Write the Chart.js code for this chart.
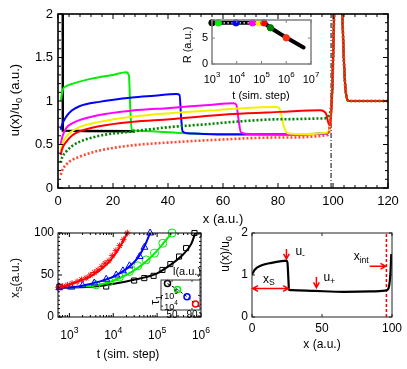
<!DOCTYPE html>
<html>
<head>
<meta charset="utf-8">
<script src="https://cdn.jsdelivr.net/npm/chart.js@4.4.0/dist/chart.umd.min.js"></script>
<style>
body { margin: 0; background: #fff; }
#wrap { position: relative; width: 407px; height: 369px; }
#wrap canvas { position: absolute; left: 0; top: 0; }
</style>
</head>
<body>
<div id="wrap">
  <canvas id="cMain" width="407" height="369"></canvas>
  <canvas id="cInset" width="407" height="369"></canvas>
  <canvas id="cTime" width="407" height="369"></canvas>
  <canvas id="cTau" width="407" height="369"></canvas>
  <canvas id="cProf" width="407" height="369"></canvas>
</div>
<script>
// ---- main panel: u(x)/u0 profiles, [x, u] pairs ----
const spikeTail = [[99.8,1.2],[100.4,2.0],[100.9,2.7],[102.8,2.7],[103.4,2.0],[104.2,1.3],[104.9,1.05],[105.8,1.0],[120,1.0]];
const profBlack = [[1.7,2.7],[1.75,0.66],[10,0.655],[28,0.652]];
const profGreen = [[1,1.0],[1.75,1.13],[3,1.17],[5.4,1.2],[12.7,1.26],[20,1.3],[24.8,1.33],[25.8,1.29],[26.3,0.9],[26.8,0.67],[30,0.655],[46.7,0.63],[60,0.62],[80,0.62],[98,0.63]];
const profBlue = [[1,0.67],[1.5,0.73],[3,0.82],[5,0.89],[7.8,0.94],[15,0.99],[27,1.04],[35,1.06],[43.1,1.08],[44.2,1.07],[44.8,0.8],[45.3,0.65],[47,0.63],[60,0.615],[80,0.615],[98,0.63]];
const profMagenta = [[1,0.5],[1.5,0.58],[3,0.69],[5,0.74],[7.8,0.78],[15,0.84],[27,0.89],[40.7,0.92],[55,0.955],[63.8,0.975],[64.8,0.96],[65.6,0.8],[66.5,0.64],[70,0.62],[85,0.615],[98,0.63]];
const profYellow = [[1,0.42],[1.5,0.5],[3,0.59],[5,0.65],[7.8,0.7],[15,0.76],[27,0.82],[40.7,0.86],[55,0.89],[63.8,0.91],[79.5,0.93],[80.6,0.91],[82.2,0.7],[83.6,0.63],[90,0.62],[98.2,0.64]];
const profRed = [[1,0.38],[1.5,0.45],[3,0.53],[5,0.6],[7.8,0.65],[15,0.71],[27,0.76],[40.7,0.79],[55,0.83],[63.8,0.85],[80.8,0.875],[95.4,0.895],[97.4,0.86],[98.4,0.74],[99,0.72]];
const profGreenDot = [[1,0.29],[1.5,0.35],[3,0.42],[5,0.48],[7.8,0.53],[15,0.6],[27,0.65],[40.7,0.7],[55,0.735],[63.8,0.76],[80.8,0.79],[96.6,0.8],[98.6,0.84]];
const profRedDot = [[1,0.15],[1.5,0.2],[3,0.27],[5,0.32],[7.8,0.36],[15,0.43],[27,0.49],[44,0.53],[55,0.55],[80,0.58],[98.2,0.61]];
const xInterface = 99.3;
const mainXTicks = [0, 20, 40, 60, 80, 100, 120];
const mainYTicks = [0, 0.5, 1, 1.5, 2];
const mainYLabels = ['0', '0.5', '1', '1.5', '2'];

// ---- inset: R vs t ----
const rLine = [[1e3,7.95],[1.3e5,7.95],[2.3e5,7.0],[1e6,5.1],[5e6,3.2]];
const rMarkT = [1e3, 1.8e3, 9.3e3, 4.3e4, 8e4, 1.26e5, 2.3e5, 1e6];
const rMarkR = [7.95, 7.95, 7.95, 7.95, 7.95, 7.95, 7.0, 5.06];
const rTicksT = [1e3, 1e4, 1e5, 1e6, 1e7];
const rExp = ['3', '4', '5', '6', '7'];
const rTicksR = [0, 5];

// ---- lower left: x_S vs t, [t, xs] pairs ----
const fitRed = [[550,35],[650,35.6],[1290,40.7],[2630,46.6],[5250,56.5],[8900,68.3],[15100,86],[20900,100]];
const fitBlue = [[550,34.4],[1290,35.6],[2630,38.7],[5250,42.7],[10700,48.6],[21400,58.5],[36300,70.3],[51300,84.2],[69200,100]];
const fitGreen = [[550,34.4],[2600,36.5],[7000,40.5],[15000,47],[30000,55.5],[56000,66],[100000,79],[150000,90],[215000,100]];
const fitBlack = [[550,34.5],[4800,37],[28000,44],[100000,52],[200000,62],[400000,75],[600000,87],[740000,100]];
const simRed = [[560,35.5],[700,36.5],[900,38],[1150,40],[1500,42],[1900,44.5],[2400,46.5],[3000,50],[3700,53],[4500,56],[5500,60],[6500,64],[8000,67],[9500,73],[11500,79],[14000,85],[17000,92],[20900,100]];
const simBlue = [[590,34.8],[1100,35.6],[2000,37.5],[3700,40.5],[6900,45],[11700,50],[16600,55],[23400,61],[39800,72],[51300,83],[69200,100]];
const simGreen = [[4070,38.3],[8130,42.2],[13800,47.5],[23400,54.1],[36300,60.9],[56200,68],[87100,75.9],[135000,87.8],[219000,100]];
const simBlack = [[590,36],[6900,36.3],[30000,43.4],[51000,46.3],[83000,49],[132000,56],[200000,63],[316000,72],[457000,82],[710000,100]];
const tTicks = [1e3, 1e4, 1e5, 1e6];
const tExp = ['3', '4', '5', '6'];
const xsTicks = [0, 50, 100];

// ---- small inset: tau1 vs l ----
const lenL = [41, 61, 80, 97];
const tau1 = [1.3e6, 3.7e5, 7.6e4, 1.6e4];
const lTicks = [50, 90];
const tauTicks = [1e4, 1e5];
const tauExp = ['4', '5'];

// ---- lower right: single profile ----
const profile = [[0,1.01],[2.1,1.13],[6.9,1.23],[14,1.29],[21,1.33],[24.6,1.34],[25.3,1.3],[26,0.9],[26.4,0.65],[28.4,0.64],[45,0.62],[66,0.6],[85,0.61],[95,0.63],[96.9,0.65],[98,0.75],[98.8,1.0],[99.5,1.5]];
const xIntB = 96;
const profXTicks = [0, 50, 100];
const profYTicks = [0, 1, 2];

const FONT = '"Liberation Sans", Arial, sans-serif';
const pts = a => a.map(p => ({ x: p[0], y: p[1] }));

function lineDs(data, color, width, dash, smooth) {
  return {
    data: pts(data), showLine: true, borderColor: color, borderWidth: width,
    borderDash: dash || [], pointRadius: 0, fill: false, tension: 0,
    cubicInterpolationMode: smooth ? 'monotone' : 'default'
  };
}
function markDs(data, color, style, r) {
  return {
    data: pts(data), showLine: false, pointStyle: style, pointRadius: r,
    borderColor: color, pointBorderWidth: 1, backgroundColor: 'rgba(0,0,0,0)', clip: 8
  };
}

// text with sub (1) and superscript (2) parts
function rich(ctx, parts, x, y, size, align) {
  let w = 0;
  const ws = parts.map(p => {
    ctx.font = (p[1] ? size * 0.72 : size) + 'px ' + FONT;
    const m = ctx.measureText(p[0]).width;
    w += m;
    return m;
  });
  let cx = align === 'center' ? x - w / 2 : (align === 'right' ? x - w : x);
  ctx.textAlign = 'left';
  ctx.textBaseline = 'middle';
  ctx.fillStyle = '#000';
  parts.forEach((p, i) => {
    ctx.font = (p[1] ? size * 0.72 : size) + 'px ' + FONT;
    const dy = p[1] === 1 ? size * 0.32 : (p[1] === 2 ? -size * 0.45 : 0);
    ctx.fillText(p[0], cx, y + dy);
    cx += ws[i];
  });
}
function vrich(ctx, parts, x, y, size) {
  ctx.save();
  ctx.translate(x, y);
  ctx.rotate(-Math.PI / 2);
  rich(ctx, parts, 0, 0, size, 'center');
  ctx.restore();
}
// box round the plot area with inward ticks on all four sides
function frame(chart, s) {
  const { ctx, chartArea: a, scales: { x, y } } = chart;
  ctx.save();
  ctx.strokeStyle = s.color || '#000';
  ctx.lineWidth = s.tickWidth || 1;
  ctx.beginPath();
  const xt = (vals, len) => vals.forEach(v => {
    const p = x.getPixelForValue(v);
    ctx.moveTo(p, a.bottom); ctx.lineTo(p, a.bottom - len);
    ctx.moveTo(p, a.top); ctx.lineTo(p, a.top + len);
  });
  const yt = (vals, len) => vals.forEach(v => {
    const p = y.getPixelForValue(v);
    ctx.moveTo(a.left, p); ctx.lineTo(a.left + len, p);
    ctx.moveTo(a.right, p); ctx.lineTo(a.right - len, p);
  });
  xt(s.xMaj || [], s.maj); xt(s.xMin || [], s.min);
  yt(s.yMaj || [], s.maj); yt(s.yMin || [], s.min);
  ctx.stroke();
  ctx.lineWidth = s.width;
  ctx.strokeRect(a.left, a.top, a.right - a.left, a.bottom - a.top);
  ctx.restore();
}
function logMinor(lo, hi) {
  const out = [];
  for (let d = 1; d <= 1e7; d *= 10) for (let k = 2; k <= 9; k++) if (k * d > lo && k * d < hi) out.push(k * d);
  return out;
}
function arrow(ctx, x1, y1, x2, y2, both) {
  const head = (ax, ay, bx, by) => {
    const ang = Math.atan2(by - ay, bx - ax), h = 6;
    ctx.moveTo(bx - h * Math.cos(ang - 0.5), by - h * Math.sin(ang - 0.5));
    ctx.lineTo(bx, by);
    ctx.lineTo(bx - h * Math.cos(ang + 0.5), by - h * Math.sin(ang + 0.5));
  };
  ctx.beginPath();
  ctx.moveTo(x1, y1); ctx.lineTo(x2, y2);
  head(x1, y1, x2, y2);
  if (both) head(x2, y2, x1, y1);
  ctx.stroke();
}
const whiteBg = {
  id: 'whiteBg',
  beforeDraw(chart) {
    const a = chart.chartArea;
    chart.ctx.fillStyle = '#fff';
    chart.ctx.fillRect(a.left, a.top, a.right - a.left, a.bottom - a.top);
  }
};
function base(pad, xs, ys) {
  return {
    responsive: false, animation: false, events: [],
    layout: { padding: pad },
    plugins: { legend: { display: false }, tooltip: { enabled: false } },
    scales: { x: Object.assign({ display: false }, xs), y: Object.assign({ display: false }, ys) }
  };
}

// ---------------- main panel ----------------
new Chart(document.getElementById('cMain'), {
  type: 'scatter',
  data: {
    datasets: [
      lineDs(profRedDot.concat(spikeTail), 'rgba(255,55,25,0.9)', 2.6, [2, 2], true),
      lineDs(profGreenDot.concat(spikeTail), '#008000', 2.6, [2, 2], true),
      lineDs(profRed.concat(spikeTail), '#ff0000', 2, null, true),
      lineDs(profYellow.concat(spikeTail), '#f2f200', 2, null, true),
      lineDs(profMagenta.concat(spikeTail), '#ff00ff', 2, null, true),
      lineDs(profBlue.concat(spikeTail), '#0000ff', 2, null, true),
      lineDs(profGreen.concat(spikeTail), '#00ee00', 2, null, true),
      lineDs(profBlack, '#000', 2.4, null, false),
      lineDs([[xInterface, 0], [xInterface, 2]], '#000', 1, [5, 2, 1, 2], false)
    ]
  },
  options: base({ left: 58, top: 14, right: 19, bottom: 181 }, { type: 'linear', min: 0, max: 120 }, { type: 'linear', min: 0, max: 2 }),
  plugins: [{
    id: 'mainDeco',
    afterDraw(chart) {
      const { ctx, chartArea: a, scales: { x, y } } = chart;
      const xMin = [], yMin = [];
      for (let v = 4; v < 120; v += 4) if (v % 20) xMin.push(v);
      for (let v = 1; v < 20; v++) if (v % 5) yMin.push(v / 10);
      frame(chart, { width: 1.6, maj: 5, min: 3, xMaj: mainXTicks, xMin, yMaj: mainYTicks, yMin });
      mainXTicks.forEach(v => rich(ctx, [[String(v), 0]], x.getPixelForValue(v), a.bottom + 13, 13, 'center'));
      mainYTicks.forEach((v, i) => rich(ctx, [[mainYLabels[i], 0]], a.left - 5, y.getPixelForValue(v), 13, 'right'));
      rich(ctx, [['x (a.u.)', 0]], 223, 219, 13, 'center');
      vrich(ctx, [['u(x)/u', 0], ['0', 1], [' (a.u.)', 0]], 15, 100, 13);
    }
  }]
});

// ---------------- inset R(t) ----------------
new Chart(document.getElementById('cInset'), {
  type: 'scatter',
  data: {
    datasets: [
      {
        data: rMarkT.map((t, i) => ({ x: t, y: rMarkR[i] })), showLine: false, pointStyle: 'circle', pointRadius: 3.2,
        backgroundColor: ['#000', '#00ee00', '#0000ff', '#ff00ff', '#f2f200', '#ff0000', '#007f00', '#ff3010'],
        borderColor: ['#000', '#00ee00', '#0000ff', '#ff00ff', '#f2f200', '#ff0000', '#007f00', '#ff3010'], clip: 6
      },
      lineDs([[2e3, 7.95], [9e4, 7.95]], '#fff', 1.2, [1.5, 2.5], false),
      Object.assign(lineDs(rLine, '#000', 4, null, false), { borderCapStyle: 'round' })
    ]
  },
  options: base({ left: 212, top: 20, right: 96, bottom: 305 }, { type: 'logarithmic', min: 1e3, max: 1e7 }, { type: 'linear', min: 0, max: 8.5 }),
  plugins: [whiteBg, {
    id: 'insetDeco',
    afterDraw(chart) {
      const { ctx, chartArea: a, scales: { x, y } } = chart;
      frame(chart, { width: 1.5, color: '#808080', maj: 3, min: 0, xMaj: rTicksT, yMaj: rTicksR });
      rTicksT.forEach((v, i) => rich(ctx, [['10', 0], [rExp[i], 2]], x.getPixelForValue(v), a.bottom + 16, 11, 'center'));
      rTicksR.forEach(v => rich(ctx, [[String(v), 0]], a.left - 4, y.getPixelForValue(v), 11, 'right'));
      rich(ctx, [['t (sim. step)', 0]], 261, 96, 11, 'center');
      vrich(ctx, [['R (a.u.)', 0]], 188, 45, 11);
    }
  }]
});

// ---------------- lower left: x_S(t) ----------------
new Chart(document.getElementById('cTime'), {
  type: 'scatter',
  data: {
    datasets: [
      markDs(simRed, '#ff0000', 'star', 3.2),
      lineDs(fitRed, '#ff0000', 2, null, true),
      markDs(simBlue, '#0000ff', 'triangle', 4),
      lineDs(fitBlue, '#0000ff', 2, null, true),
      markDs(simGreen, '#00ee00', 'circle', 4),
      lineDs(fitGreen, '#00ee00', 2, null, true),
      markDs(simBlack, '#000', 'rect', 3.6),
      lineDs(fitBlack, '#000', 2, null, true)
    ]
  },
  options: base({ left: 58, top: 233, right: 206, bottom: 52 }, { type: 'logarithmic', min: 550, max: 1e6 }, { type: 'linear', min: 0, max: 100 }),
  plugins: [{
    id: 'timeDeco',
    afterDraw(chart) {
      const { ctx, chartArea: a, scales: { x, y } } = chart;
      const yMin = [];
      for (let v = 5; v < 100; v += 5) if (v % 50) yMin.push(v);
      frame(chart, { width: 1, maj: 4, min: 2, xMaj: tTicks, xMin: logMinor(550, 1e6), yMaj: xsTicks, yMin });
      tTicks.forEach((v, i) => rich(ctx, [['10', 0], [tExp[i], 2]], x.getPixelForValue(v), a.bottom + 19, 12, 'center'));
      xsTicks.forEach(v => rich(ctx, [[String(v), 0]], a.left - 4, y.getPixelForValue(v), 12, 'right'));
      rich(ctx, [['t (sim. step)', 0]], 128, 355, 12, 'center');
      vrich(ctx, [['x', 0], ['S', 1], ['(a.u.)', 0]], 16, 278, 12);
    }
  }]
});

// ---------------- small inset: tau1(l) ----------------
new Chart(document.getElementById('cTau'), {
  type: 'scatter',
  data: {
    datasets: [
      {
        data: lenL.map((l, i) => ({ x: l, y: tau1[i] })), showLine: false, pointStyle: 'circle', pointRadius: 3,
        borderColor: ['#000', '#00ee00', '#0000ff', '#ff0000'], pointBorderWidth: 1.5,
        backgroundColor: 'rgba(0,0,0,0)', clip: 5
      },
      lineDs(lenL.map((l, i) => [l, tau1[i]]), '#000', 1, [3, 2], false)
    ]
  },
  options: base({ left: 161, top: 280, right: 207, bottom: 59 }, { type: 'linear', min: 28, max: 106 }, { type: 'logarithmic', min: 4365, max: 2.82e6 }),
  plugins: [whiteBg, {
    id: 'tauDeco',
    afterDraw(chart) {
      const { ctx, chartArea: a, scales: { x, y } } = chart;
      frame(chart, { width: 1, color: '#333', maj: 2, min: 0, xMaj: lTicks, yMaj: tauTicks });
      tauTicks.forEach((v, i) => rich(ctx, [['10', 0], [tauExp[i], 2]], a.left + 10, y.getPixelForValue(v) + 1, 9, 'center'));
      lTicks.forEach(v => rich(ctx, [[String(v), 0]], x.getPixelForValue(v), a.bottom + 5, 10, 'center'));
      rich(ctx, [['l(a.u.)', 0]], 187, 272, 11, 'center');
      vrich(ctx, [['\u03c4', 0], ['1', 1]], 156, 300, 12);
    }
  }]
});

// ---------------- lower right: one profile ----------------
new Chart(document.getElementById('cProf'), {
  type: 'scatter',
  data: {
    datasets: [
      lineDs(profile, '#000', 2.2, null, true),
      lineDs([[xIntB, 0], [xIntB, 2]], '#ff0000', 1.5, [3, 2], false)
    ]
  },
  options: base({ left: 252, top: 233, right: 15, bottom: 52 }, { type: 'linear', min: 0, max: 100 }, { type: 'linear', min: 0, max: 2 }),
  plugins: [{
    id: 'profDeco',
    afterDraw(chart) {
      const { ctx, chartArea: a, scales: { x, y } } = chart;
      frame(chart, { width: 1, color: '#222', maj: 3, min: 0, xMaj: profXTicks, yMaj: profYTicks });
      profXTicks.forEach(v => rich(ctx, [[String(v), 0]], x.getPixelForValue(v), a.bottom + 12, 12, 'center'));
      profYTicks.forEach(v => rich(ctx, [[String(v), 0]], a.left - 4, y.getPixelForValue(v), 12, 'right'));
      rich(ctx, [['x (a.u.)', 0]], 322, 345, 12, 'center');
      vrich(ctx, [['u(x)/u', 0], ['0', 1]], 226, 254, 12);
      // red arrows and their labels
      ctx.save();
      ctx.strokeStyle = '#ff0000';
      ctx.lineWidth = 1.5;
      const X = v => x.getPixelForValue(v), Y = v => y.getPixelForValue(v);
      arrow(ctx, X(24.6), Y(1.62), X(24.6), Y(1.38));
      arrow(ctx, X(46), Y(0.95), X(46), Y(0.7));
      arrow(ctx, X(0.5), Y(0.68), X(26), Y(0.68), true);
      arrow(ctx, X(84), Y(1.21), X(95.5), Y(1.21));
      ctx.restore();
      rich(ctx, [['u', 0], ['-', 1]], X(31), Y(1.55), 12, 'left');
      rich(ctx, [['u', 0], ['+', 1]], X(51), Y(0.93), 12, 'left');
      rich(ctx, [['x', 0], ['S', 1]], X(12), Y(0.9), 12, 'center');
      rich(ctx, [['x', 0], ['int', 1]], X(78), Y(1.44), 12, 'center');
    }
  }]
});
</script>
</body>
</html>
